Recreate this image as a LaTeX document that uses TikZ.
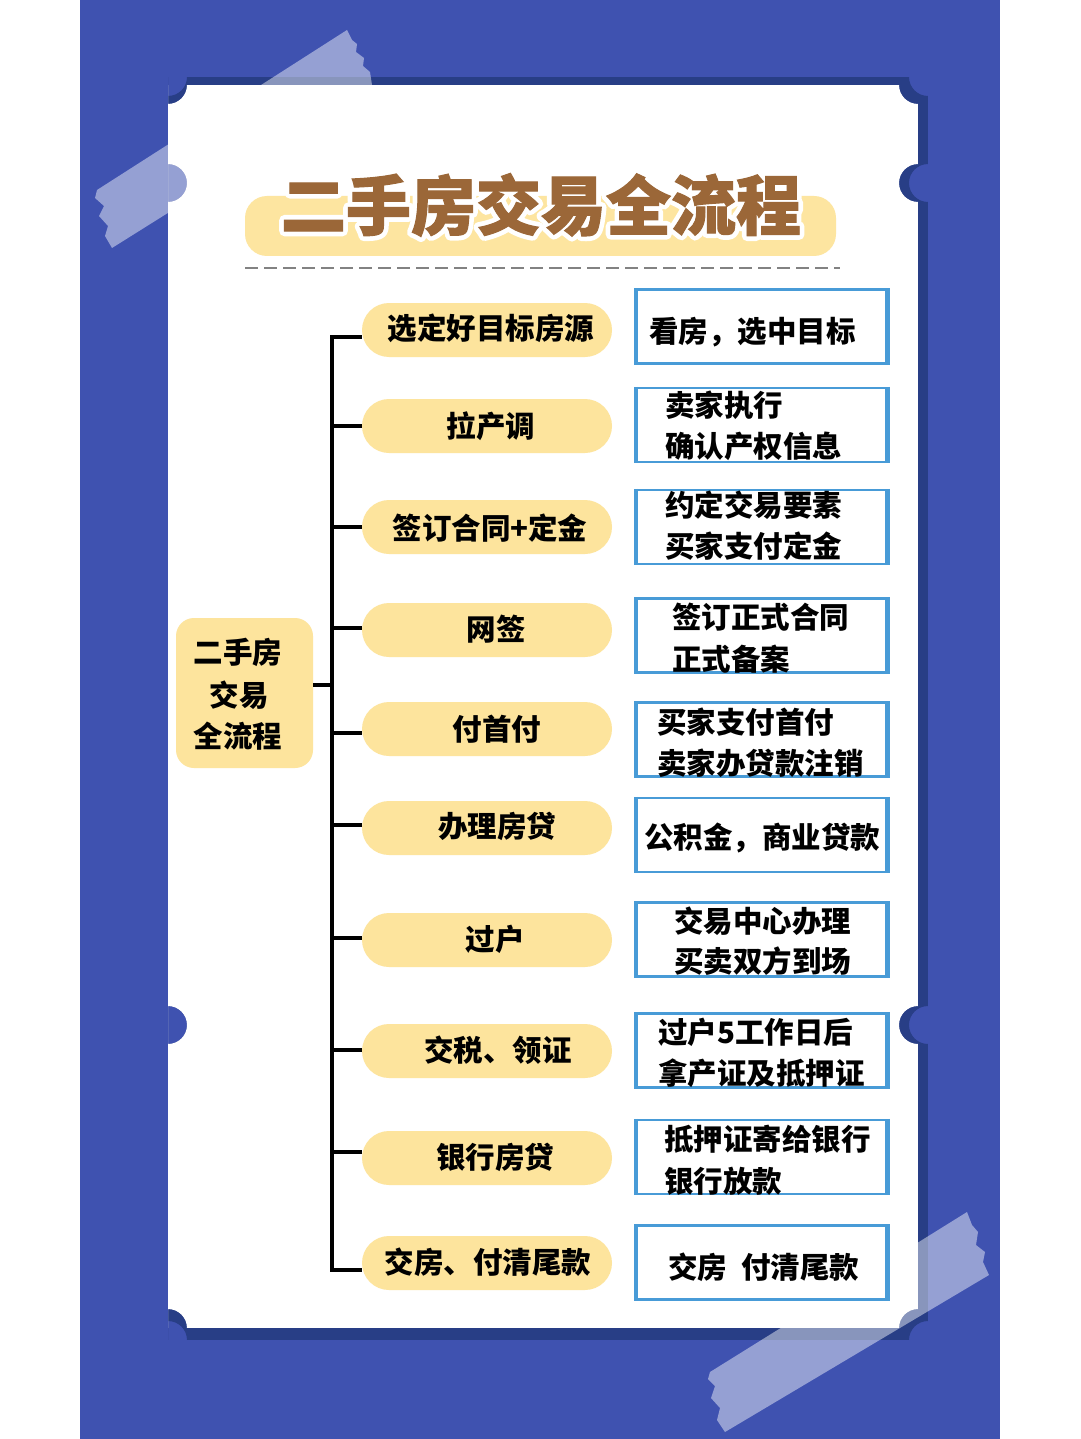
\documentclass[tikz,border=0pt]{standalone}
\usepackage{fontspec}
\setmainfont{Noto Sans CJK SC}
\newfontfamily\titleface{Noto Sans CJK SC}
\definecolor{bgblue}{RGB}{63,82,176}
\definecolor{navy}{RGB}{40,62,134}
\definecolor{pillyellow}{RGB}{253,228,157}
\definecolor{titleyellow}{RGB}{253,229,160}
\definecolor{boxblue}{RGB}{72,155,215}
\definecolor{titlebrown}{RGB}{155,103,56}
\definecolor{dashgrey}{RGB}{130,130,130}
\newcommand\notchcard[5]{%
  \begin{scope}[even odd rule]
    \clip (#2,#3) rectangle (#4,#5)
      (#2,#3) circle[radius=19pt] (#4,#3) circle[radius=19pt]
      (#2,#5) circle[radius=19pt] (#4,#5) circle[radius=19pt]
      (#2,183) circle[radius=19pt] (#4,183) circle[radius=19pt]
      (#2,1025) circle[radius=19pt] (#4,1025) circle[radius=19pt];
    \fill[#1] (#2,#3) rectangle (#4,#5);
  \end{scope}}
\begin{document}
\begin{tikzpicture}[x=1pt,y=-1pt,
  lbl/.style={font=\fontsize{29.5pt}{36pt}\selectfont\bfseries, inner sep=0pt, text height=25pt, text depth=3pt},
  titletxt/.style={inner sep=0pt, text height=55pt, text depth=5.6pt},
  pill/.style={fill=pillyellow, rounded corners=27pt, minimum width=250pt, minimum height=54pt, inner sep=0pt},
  infobox/.style={draw=boxblue, line width=2.5pt, fill=white, minimum width=249pt, minimum height=74pt, inner sep=0pt},
  sideline/.style={draw=boxblue, line width=4.5pt},
  branch/.style={line width=4pt, black},
  tape/.style={fill=white, fill opacity=0.45},
]
\useasboundingbox (0,0) rectangle (1080,1439);
\fill[white] (0,0) rectangle (1080,1439);
\fill[bgblue] (80,0) rectangle (1000,1439);
% shadow of the card
\notchcard{navy}{168}{77}{928}{1340}
% tapes
\fill[tape] (97,190) -- (347,30) -- (352,40) -- (357,44) -- (356,52) -- (364,58) -- (363,66) -- (370,72) -- (372,85) -- (112,248) -- (105,236) -- (108,226) -- (99,216) -- (104,206) -- (95,198) -- cycle;
\fill[tape] (710,1372) -- (967,1212) -- (972,1225) -- (978,1232) -- (976,1245) -- (985,1252) -- (983,1262) -- (989,1275) -- (725,1432) -- (717,1420) -- (720,1408) -- (711,1398) -- (715,1386) -- (708,1379) -- cycle;
% card
\notchcard{white}{168}{85}{918}{1328}
% title
\node[fill=titleyellow, rounded corners=22pt, minimum width=591pt, minimum height=60pt, inner sep=0pt] (titlebar) at (540.5,226) {};
\begin{scope}[line join=round, line cap=round]
\node[titletxt, text=white, font=\titleface\fontsize{65pt}{70pt}\selectfont\bfseries\addfontfeature{FakeBold=16}] (titleline) at (541,205) {二手房交易全流程};
\end{scope}
\node[titletxt, text=titlebrown, font=\titleface\fontsize{65pt}{70pt}\selectfont\bfseries\addfontfeature{FakeBold=1.5}] (title) at (541,205) {二手房交易全流程};
\draw[dashgrey, line width=2.5pt, dash pattern=on 13pt off 6pt] (245,268) -- (840,268);
% tree joints
\coordinate (j0) at (332,685);
\coordinate (j1) at (332,337);
\coordinate (j2) at (332,426);
\coordinate (j3) at (332,527);
\coordinate (j4) at (332,628);
\coordinate (j5) at (332,733);
\coordinate (j6) at (332,825);
\coordinate (j7) at (332,938);
\coordinate (j8) at (332,1050);
\coordinate (j9) at (332,1152);
\coordinate (j10) at (332,1270);
% root
\node[fill=pillyellow, rounded corners=18pt, minimum width=137pt, minimum height=150pt, inner sep=0pt] (root) at (244.5,693) {};
% pills
\node[pill] (p1) at (487,330) {};
\node[pill] (p2) at (487,426) {};
\node[pill] (p3) at (487,527) {};
\node[pill] (p4) at (487,630) {};
\node[pill] (p5) at (487,729) {};
\node[pill] (p6) at (487,828) {};
\node[pill] (p7) at (487,940) {};
\node[pill] (p8) at (487,1051) {};
\node[pill] (p9) at (487,1158) {};
\node[pill] (p10) at (487,1263) {};
% connectors
\draw[branch] (root.east |- j0) -- (j0);
\draw[branch] (j1 -| p1.west) -- (j1) -- (j10) -- (j10 -| p10.west);
\foreach \k in {2,...,9}
  \draw[branch] (j\k) -- (j\k -| p\k.west);
% root text
\node[lbl] (r1) at (238,652.5) {二手房};
\node[lbl] (r2) at (239,695) {交易};
\node[lbl] (r3) at (238,736) {全流程};
% pill texts
\node[lbl] (t1) at (491,328.5) {选定好目标房源};
\node[lbl] (t2) at (491,426.5) {拉产调};
\node[lbl] (t3) at (490,528) {签订合同+定金};
\node[lbl] (t4) at (496,629) {网签};
\node[lbl] (t5) at (497,729) {付首付};
\node[lbl] (t6) at (497,826) {办理房贷};
\node[lbl] (t7) at (495,939) {过户};
\node[lbl] (t8) at (498,1050) {交税、领证};
\node[lbl] (t9) at (495,1157) {银行房贷};
\node[lbl] (t10) at (488,1262) {交房、付清尾款};
% info boxes
\node[infobox] (b1) at (761.5,326.5) {};
\node[infobox] (b2) at (761.5,425) {};
\node[infobox] (b3) at (761.5,527) {};
\node[infobox] (b4) at (761.5,635.5) {};
\node[infobox] (b5) at (761.5,739.5) {};
\node[infobox] (b6) at (761.5,835) {};
\node[infobox] (b7) at (761.5,939.5) {};
\node[infobox] (b8) at (761.5,1050.5) {};
\node[infobox] (b9) at (761.5,1157) {};
\node[infobox] (b10) at (761.5,1262.5) {};
\foreach \k in {1,...,10}
  \draw[sideline] (b\k.north west) -- (b\k.south west) (b\k.north east) -- (b\k.south east);
% box texts
\node[lbl, anchor=west] (s1) at (649,331) {看房，选中目标};
\node[lbl, anchor=west] (s2a) at (665,405) {卖家执行};
\node[lbl, anchor=west] (s2b) at (665,446) {确认产权信息};
\node[lbl, anchor=west] (s3a) at (665,505) {约定交易要素};
\node[lbl, anchor=west] (s3b) at (665,546) {买家支付定金};
\node[lbl, anchor=west] (s4a) at (672,617) {签订正式合同};
\node[lbl, anchor=west] (s4b) at (672,659) {正式备案};
\node[lbl, anchor=west] (s5a) at (657,722) {买家支付首付};
\node[lbl, anchor=west] (s5b) at (657,763) {卖家办贷款注销};
\node[lbl, anchor=west] (s6) at (644,837) {公积金，商业贷款};
\node[lbl, anchor=west] (s7a) at (674,921) {交易中心办理};
\node[lbl, anchor=west] (s7b) at (674,961) {买卖双方到场};
\node[lbl, anchor=west] (s8a) at (658,1032) {过户5工作日后};
\node[lbl, anchor=west] (s8b) at (658,1073) {拿产证及抵押证};
\node[lbl, anchor=west] (s9a) at (664,1139) {抵押证寄给银行};
\node[lbl, anchor=west] (s9b) at (664,1181) {银行放款};
\node[lbl, anchor=west] (s10) at (668,1267) {交房\hspace{14pt}付清尾款};
\end{tikzpicture}
\end{document}
